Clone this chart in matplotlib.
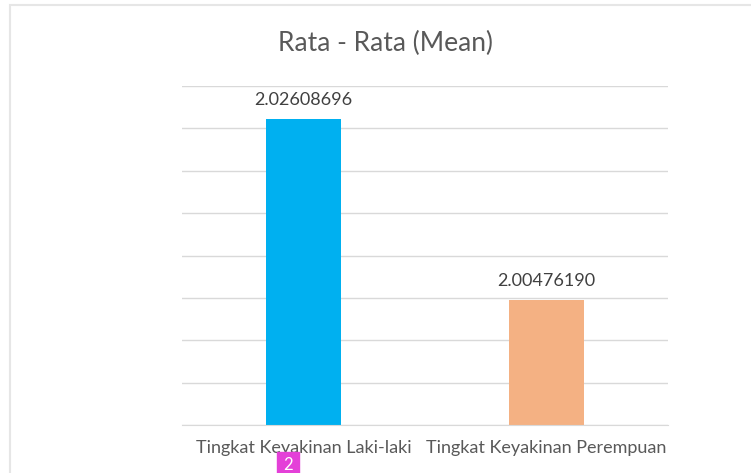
import matplotlib.pyplot as plt
from matplotlib.patches import Rectangle

categories = ['Tingkat Keyakinan Laki-laki', 'Tingkat Keyakinan Perempuan']
means = [2.02608696, 2.00476190]
value_labels = ['2.02608696', '2.00476190']
colors = ['#00B0F0', '#F4B183']

plt.rcParams['font.family'] = ['Lato', 'DejaVu Sans']

W, H = 751, 473
fig = plt.figure(figsize=(W / 100, H / 100), dpi=100)

# chart frame (Excel style), partly cut off at right/bottom
fig.patches.append(Rectangle((10 / W, -0.1), 1.2, (H - 5) / H + 0.1,
                             transform=fig.transFigure, fill=False,
                             edgecolor='#E6E6E6', linewidth=1.5))

ax = fig.add_axes([182 / W, (H - 425) / H, 486 / W, (425 - 86) / H])
x = range(len(categories))
ax.bar(x, means, width=0.31, color=colors, zorder=2)
ax.set_xlim(-0.5, 1.5)
ax.set_ylim(1.99, 2.03)
ax.set_yticks([1.99 + 0.005 * i for i in range(9)])
ax.yaxis.grid(True, color='#D9D9D9', linewidth=1)
ax.set_yticklabels([])
ax.tick_params(axis='both', length=0)
for s in ['top', 'right', 'left']:
    ax.spines[s].set_visible(False)
ax.spines['bottom'].set_color('#D9D9D9')
ax.set_xticks(list(x))
ax.set_xticklabels(categories, fontsize=13, color='#595959')
ax.tick_params(axis='x', pad=11)

for i, v in enumerate(means):
    ax.annotate(value_labels[i], (i, v), xytext=(0, 8), textcoords='offset points',
                ha='center', va='bottom', fontsize=13, color='#404040')

fig.text(386 / W, 1 - 43 / H, 'Rata - Rata (Mean)', ha='center', va='center',
         fontsize=19, color='#595959')

# small magenta marker below first label
fig.patches.append(Rectangle((277 / W, 0), 22 / W, 21 / H, transform=fig.transFigure,
                             color='#E440D8', zorder=5))
fig.text(288 / W, 8 / H, '2', ha='center', va='center', fontsize=12, color='white', zorder=6)

fig.savefig('out.png', dpi=100)
